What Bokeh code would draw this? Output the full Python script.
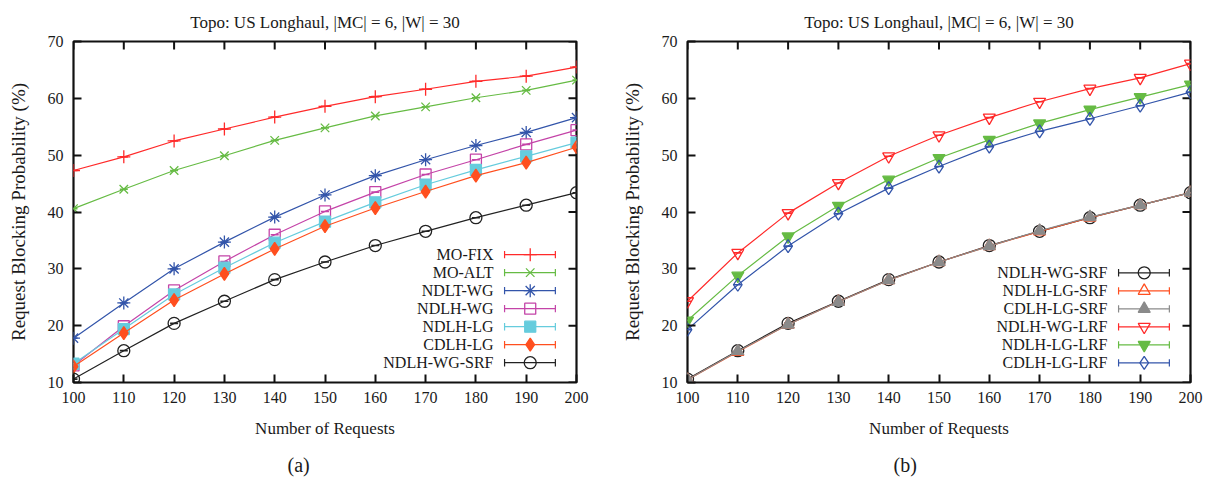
from bokeh.plotting import figure
from bokeh.models import Range1d, FixedTicker, Title
from bokeh.layouts import row
from bokeh.embed import file_html
from bokeh.resources import INLINE
from bokeh.core.properties import value

FONT = "Liberation Serif"
TITLE = "Topo: US Longhaul, |MC| = 6, |W| = 30"
X_LABEL = "Number of Requests"
Y_LABEL = "Request Blocking Probability (%)"

requests = [100, 110, 120, 130, 140, 150, 160, 170, 180, 190, 200]
y_ticks = [10, 20, 30, 40, 50, 60, 70]

# (a)
mo_fix = [47.3, 49.7, 52.5, 54.6, 56.7, 58.6, 60.3, 61.6, 63.0, 63.9, 65.5]
mo_alt = [40.6, 44.0, 47.3, 49.9, 52.6, 54.8, 56.9, 58.5, 60.1, 61.4, 63.2]
ndlt_wg = [17.8, 24.0, 30.0, 34.7, 39.1, 43.0, 46.4, 49.2, 51.7, 54.0, 56.6]
ndlh_wg = [13.0, 19.9, 26.2, 31.3, 36.0, 40.1, 43.5, 46.6, 49.2, 51.9, 54.4]
ndlh_lg = [13.3, 19.4, 25.5, 30.2, 34.6, 38.3, 41.7, 44.8, 47.4, 49.8, 52.2]
cdlh_lg = [12.8, 18.7, 24.5, 29.1, 33.5, 37.5, 40.7, 43.6, 46.4, 48.7, 51.4]
ndlh_wg_srf = [10.6, 15.6, 20.4, 24.3, 28.1, 31.2, 34.1, 36.6, 39.0, 41.2, 43.4]

# (b)
ndlh_lg_srf = [10.5, 15.4, 20.2, 24.2, 28.0, 31.2, 34.0, 36.6, 39.0, 41.2, 43.4]
cdlh_lg_srf = [10.5, 15.5, 20.2, 24.2, 28.0, 31.2, 34.0, 36.7, 39.1, 41.2, 43.4]
ndlh_wg_lrf = [24.3, 32.8, 39.8, 45.1, 49.8, 53.5, 56.6, 59.4, 61.7, 63.6, 66.1]
ndlh_lg_lrf = [20.9, 28.8, 35.7, 41.1, 45.7, 49.5, 52.7, 55.6, 58.0, 60.2, 62.4]
cdlh_lg_lrf = [19.3, 27.2, 34.0, 39.7, 44.2, 48.0, 51.5, 54.2, 56.4, 58.7, 61.1]

RED = "#ff2a2a"
GREEN = "#66bb44"
BLUE = "#3355aa"
MAGENTA = "#c444a8"
CYAN = "#66ccdd"
ORANGE = "#ff4f1f"
BLACK = "#222222"
GRAY = "#8a8a8a"
INK = "#1a1a1a"

series_a = [
    ("MO-FIX", mo_fix, RED, "cross", False, 13),
    ("MO-ALT", mo_alt, GREEN, "x", False, 12),
    ("NDLT-WG", ndlt_wg, BLUE, "asterisk", False, 13),
    ("NDLH-WG", ndlh_wg, MAGENTA, "square", False, 11),
    ("NDLH-LG", ndlh_lg, CYAN, "square", True, 11),
    ("CDLH-LG", cdlh_lg, ORANGE, "diamond", True, 13),
    ("NDLH-WG-SRF", ndlh_wg_srf, BLACK, "circle", False, 12),
]
series_b = [
    ("NDLH-WG-SRF", ndlh_wg_srf, BLACK, "circle", False, 12),
    ("NDLH-LG-SRF", ndlh_lg_srf, ORANGE, "triangle", False, 12),
    ("CDLH-LG-SRF", cdlh_lg_srf, GRAY, "triangle", True, 12),
    ("NDLH-WG-LRF", ndlh_wg_lrf, RED, "inverted_triangle", False, 12),
    ("NDLH-LG-LRF", ndlh_lg_lrf, GREEN, "inverted_triangle", True, 12),
    ("CDLH-LG-LRF", cdlh_lg_lrf, BLUE, "diamond", False, 13),
]


def draw_marker(p, xs, ys, color, marker, filled, size):
    p.scatter(xs, ys, marker=marker, size=size, line_color=color, line_width=1.3,
              fill_color=color if filled else None)


def make_fig(series, caption, border_left, border_right, legend_top, cap_offset):
    p = figure(frame_width=503, frame_height=341,
               x_range=Range1d(100, 200), y_range=Range1d(10, 70),
               output_backend="svg", toolbar_location=None,
               min_border_left=border_left, min_border_right=border_right,
               min_border_top=41, min_border_bottom=5)
    p.title.text = TITLE
    p.title.text_font = FONT
    p.title.text_font_size = "17px"
    p.title.text_font_style = "normal"
    p.title.text_color = INK
    p.title.align = "center"
    p.title.standoff = 20
    p.outline_line_color = "#111111"
    p.outline_line_width = 2.2
    p.xgrid.visible = False
    p.ygrid.visible = False

    ax = p.xaxis[0]
    ay = p.yaxis[0]
    ax.ticker = FixedTicker(ticks=requests)
    ay.ticker = FixedTicker(ticks=y_ticks)
    ax.axis_label = X_LABEL
    ay.axis_label = Y_LABEL
    for a in (ax, ay):
        a.axis_line_color = None
        a.major_tick_in = 8
        a.major_tick_out = 0
        a.major_tick_line_width = 2
        a.major_tick_line_color = "#111111"
        a.minor_tick_line_color = None
        a.major_label_text_font = FONT
        a.major_label_text_font_size = "16px"
        a.major_label_text_color = INK
        a.axis_label_text_font = FONT
        a.axis_label_text_font_style = "normal"
        a.axis_label_text_color = INK
        a.axis_label_text_font_size = "17px"
    ay.axis_label_text_font_size = "19px"
    ax.major_label_standoff = 9
    ay.major_label_standoff = 10
    ax.axis_label_standoff = 13
    ay.axis_label_standoff = 16

    # mirrored ticks on the top and right edges of the frame
    p.segment(requests, [70] * len(requests), requests, [70 - 1.41] * len(requests),
              line_color="#111111", line_width=2)
    p.segment([200] * len(y_ticks), y_ticks, [200 - 1.59] * len(y_ticks), y_ticks,
              line_color="#111111", line_width=2)

    cap = Title(text=caption, align="left", text_font=FONT, text_font_size="20px",
                text_font_style="normal", text_color=INK, standoff=22, offset=cap_offset)
    p.add_layout(cap, "below")

    for name, ys, color, marker, filled, size in series:
        p.line(requests, ys, line_color=color, line_width=1.2)
        draw_marker(p, requests, ys, color, marker, filled, size)
        p.scatter(requests, ys, marker="dash", size=8, line_color=color, line_width=1.6)

    # gnuplot-style key: text, then sample line with end caps and marker
    text_x = 183.5
    x0, x1, xm = 185.7, 195.8, 190.8
    step = 3.17
    for i, (name, ys, color, marker, filled, size) in enumerate(series):
        yy = legend_top - i * step
        p.text([text_x], [yy], text=[name], text_align="right", text_baseline="middle",
               text_font=value(FONT), text_font_size="16px", text_color=INK)
        p.segment([x0], [yy], [x1], [yy], line_color=color, line_width=1.2)
        p.segment([x0, x1], [yy - 0.65, yy - 0.65], [x0, x1], [yy + 0.65, yy + 0.65],
                  line_color=color, line_width=1.2)
        draw_marker(p, [xm], [yy], color, marker, filled, size)
    return p


pa = make_fig(series_a, "(a)", 73, 32, 32.5, 214)
pb = make_fig(series_b, "(b)", 79, 13, 29.3, 206)
layout = row(pa, pb, spacing=0)

open("out.html", "w").write(file_html(layout, INLINE))
